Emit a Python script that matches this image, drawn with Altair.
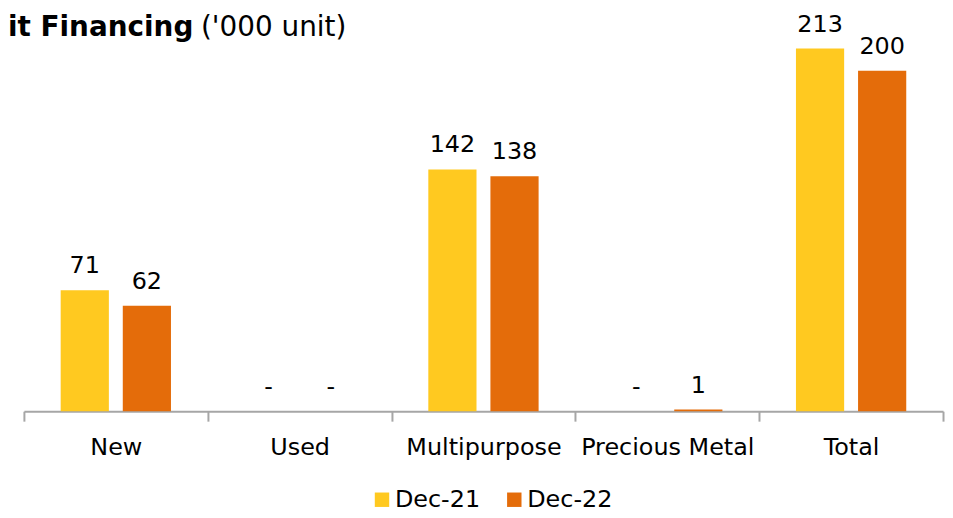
import altair as alt
import pandas as pd

categories = ["New", "Used", "Multipurpose", "Precious Metal", "Total"]
periods = ["Dec-21", "Dec-22"]
dec21 = [71, 0, 142, 0, 213]
dec22 = [62, 0, 138, 1, 200]
colors = ["#FFC920", "#E46C0A"]
title_bold = "it Financing"
title_unit = "('000 unit)"

rows = []
for c, a, b in zip(categories, dec21, dec22):
    rows.append({"cat": c, "period": periods[0], "value": a})
    rows.append({"cat": c, "period": periods[1], "value": b})
df = pd.DataFrame(rows)

FONT = "DejaVu Sans"

x = alt.X("cat:N", sort=categories, title=None,
          scale=alt.Scale(paddingInner=0, paddingOuter=0),
          axis=alt.Axis(labelAngle=0, tickBand="extent", tickSize=10,
                        tickColor="#A6A6A6", domainColor="#A6A6A6",
                        tickWidth=2, domainWidth=2, labelFont=FONT,
                        labelFontSize=24, labelColor="#000000",
                        labelBaseline="alphabetic", labelPadding=34,
                        grid=False))
xo = alt.XOffset("period:N", sort=periods,
                 scale=alt.Scale(paddingInner=0.224, paddingOuter=0.592))
y = alt.Y("value:Q", scale=alt.Scale(domain=[0, 236], nice=False),
          axis=None)
color = alt.Color("period:N", sort=periods,
                  scale=alt.Scale(domain=periods, range=colors),
                  legend=alt.Legend(title=None, orient="none", legendX=348,
                                    legendY=481, direction="horizontal",
                                    symbolType="square", symbolSize=210,
                                    symbolStrokeWidth=0, labelFont=FONT,
                                    labelFontSize=24, labelColor="#000000",
                                    labelOffset=1, columnPadding=22,
                                    padding=0))

base = alt.Chart(df)
bars = base.mark_bar().encode(x=x, xOffset=xo, y=y, color=color)
labels = base.transform_calculate(
    lbl="datum.value == 0 ? '-' : format(datum.value, 'd')"
).mark_text(dy=-17, baseline="alphabetic", fontSize=24, font=FONT,
            color="#000000").encode(x=x, xOffset=xo, y=y, text="lbl:N")

t1 = alt.Chart(pd.DataFrame({"t": [title_bold]})).mark_text(
    align="left", baseline="alphabetic", fontSize=28, fontWeight="bold",
    font=FONT, color="#000000"
).encode(x=alt.value(-16), y=alt.value(27), text="t:N")
t2 = alt.Chart(pd.DataFrame({"t": [title_unit]})).mark_text(
    align="left", baseline="alphabetic", fontSize=28, font=FONT,
    color="#000000"
).encode(x=alt.value(178), y=alt.value(27), text="t:N")

chart = alt.layer(bars, labels, t1, t2).properties(
    width=924, height=404,
    autosize=alt.AutoSizeParams(type="none"),
    padding={"left": 16, "top": 0, "right": 2, "bottom": 104},
).configure_view(stroke=None)

chart.save("out.html", embed_options={"renderer": "svg", "actions": False})
